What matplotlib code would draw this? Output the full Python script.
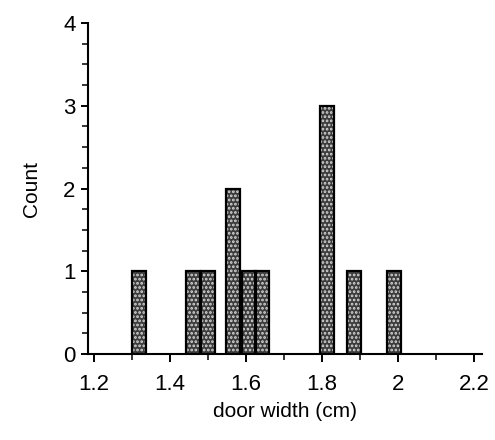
import matplotlib
matplotlib.use("Agg")
import matplotlib.pyplot as plt
from matplotlib.ticker import MultipleLocator

# bars: left edge (cm) and count
bin_left = [1.300, 1.442, 1.481, 1.547, 1.589, 1.624, 1.795, 1.866, 1.971]
counts = [1, 1, 1, 2, 1, 1, 3, 1, 1]
bin_width = 0.037

x_ticks = [1.2, 1.4, 1.6, 1.8, 2.0, 2.2]
x_labels = ["1.2", "1.4", "1.6", "1.8", "2", "2.2"]
y_ticks = [0, 1, 2, 3, 4]

plt.rcParams['font.family'] = ['Liberation Sans', 'DejaVu Sans']
plt.rcParams['hatch.linewidth'] = 1.3

fig = plt.figure(figsize=(4.95, 4.4), dpi=100)
ax = fig.add_axes([0.178, 0.195, 0.796, 0.753])

# stippled fill, then black outline on top
ax.bar(bin_left, counts, width=bin_width, align='edge',
       facecolor='#3c3c3c', edgecolor='#d8d8d8', hatch='....', linewidth=0)
ax.bar(bin_left, counts, width=bin_width, align='edge',
       facecolor='none', edgecolor='black', linewidth=1.6)

ax.set_xlim(1.184, 2.221)
ax.set_ylim(0, 4)

ax.spines['top'].set_visible(False)
ax.spines['right'].set_visible(False)
ax.spines['left'].set_linewidth(1.5)
ax.spines['bottom'].set_linewidth(1.5)

ax.set_xticks(x_ticks)
ax.set_xticklabels(x_labels)
ax.xaxis.set_minor_locator(MultipleLocator(0.1))
ax.set_yticks(y_ticks)
ax.yaxis.set_minor_locator(MultipleLocator(0.25))

ax.tick_params(axis='x', which='major', direction='out', length=6, width=1.4,
               labelsize=16, pad=8)
ax.tick_params(axis='y', which='major', direction='out', length=5, width=1.4,
               labelsize=16, pad=4)
ax.tick_params(axis='both', which='minor', direction='out', length=4, width=1.1)

ax.set_xlabel("door width (cm)", fontsize=15, labelpad=5)
ax.set_ylabel("Count", fontsize=15, labelpad=16)

fig.savefig("out.png", dpi=100)
